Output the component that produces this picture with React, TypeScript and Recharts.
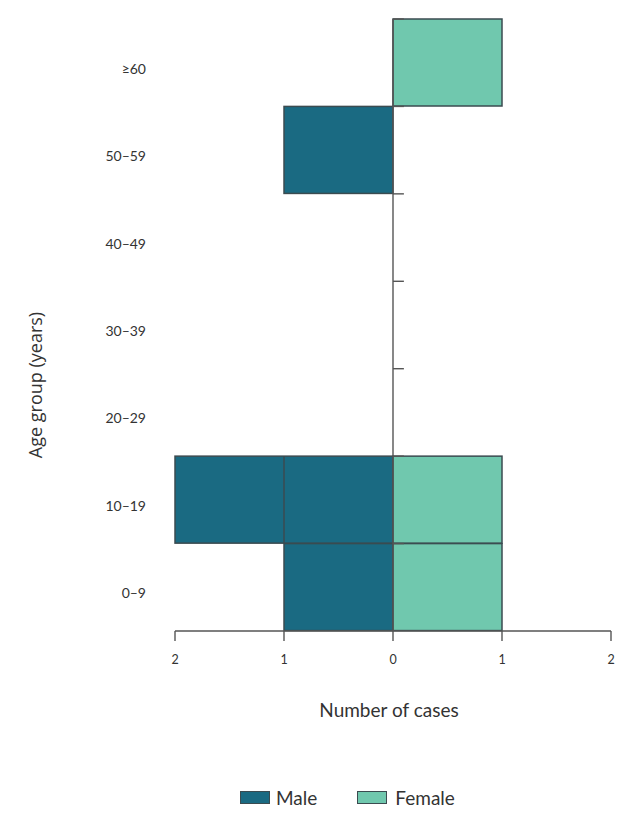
import { BarChart, Bar, XAxis, YAxis, ReferenceLine, Legend } from 'recharts'

// age groups, bottom to top
const ageGroups = ['0–9', '10–19', '20–29', '30–39', '40–49', '50–59', '≥60']
const maleCases = [1, 2, 0, 0, 0, 1, 0]
const femaleCases = [1, 1, 0, 0, 0, 0, 1]
const caseTicks = [-2, -1, 0, 1, 2]

const MALE = '#1a6a82'
const FEMALE = '#70c8ae'
const EDGE = '#3b4b50'
const AXIS = '#555555'

const chartData = ageGroups.map((age, i) => ({
  age,
  male: -maleCases[i],
  female: femaleCases[i],
}))

// one box per case, like the original figure
const UnitBar = (props: any) => {
  const { x, y, width, height, fill, count } = props
  if (!count || !width) return null
  const x0 = Math.min(x, x + width)
  const w = Math.abs(width)
  const unit = w / count
  const dividers = []
  for (let i = 1; i < count; i++) {
    dividers.push(
      <line key={i} x1={x0 + unit * i} x2={x0 + unit * i} y1={y} y2={y + height} stroke={EDGE} strokeWidth={1.5} />
    )
  }
  return (
    <g>
      <rect x={x0} y={y} width={w} height={height} fill={fill} stroke={EDGE} strokeWidth={1.5} />
      {dividers}
    </g>
  )
}

const AgeLabel = ({ viewBox }: any) => {
  const cx = 35
  const cy = viewBox.y + viewBox.height / 2 + 60
  return (
    <text x={cx} y={cy} transform={`rotate(-90 ${cx} ${cy})`} textAnchor="middle" dominantBaseline="central"
      fill="#333" fontSize={18} fontFamily='"Open Sans", sans-serif'>
      Age group (years)
    </text>
  )
}

const LegendBox = () => (
  <div style={{ display: 'flex', alignItems: 'center', paddingLeft: 240, fontFamily: 'Lato, sans-serif', fontSize: 19, color: '#333' }}>
    <span style={{ width: 28, height: 11, background: MALE, border: `1px solid ${EDGE}`, display: 'inline-block' }} />
    <span style={{ marginLeft: 6 }}>Male</span>
    <span style={{ width: 28, height: 11, background: FEMALE, border: `1px solid ${EDGE}`, display: 'inline-block', marginLeft: 40 }} />
    <span style={{ marginLeft: 8 }}>Female</span>
  </div>
)

export default function App() {
  return (
    <div style={{ position: 'absolute', left: 0, top: 0, background: '#fff' }}>
      <BarChart
        width={633}
        height={828}
        data={chartData}
        layout="vertical"
        stackOffset="sign"
        barCategoryGap={0}
        margin={{ top: 19, right: 22, left: 0, bottom: 74 }}
      >
        <XAxis
          type="number"
          domain={[-2, 2]}
          ticks={caseTicks}
          tickFormatter={(v: number) => String(Math.abs(v))}
          stroke={AXIS}
          strokeWidth={1.4}
          tickSize={10}
          tickMargin={14}
          height={100}
          tick={{ fill: '#333', fontSize: 12.5, fontFamily: 'Lato, sans-serif' }}
          label={{ value: 'Number of cases', position: 'insideBottom', offset: 14, dx: -4, fill: '#333', fontSize: 19, fontFamily: 'Lato, sans-serif' }}
        />
        <YAxis
          type="category"
          dataKey="age"
          reversed
          width={175}
          axisLine={false}
          tickLine={false}
          tickSize={0}
          tickMargin={29}
          tick={{ fill: '#333', fontSize: 14, fontFamily: 'Lato, sans-serif', dy: 6 }}
          label={<AgeLabel />}
        />
        <Bar dataKey="male" name="Male" stackId="a" fill={MALE} isAnimationActive={false}
          shape={(p: any) => <UnitBar {...p} count={Math.abs(p.payload.male)} />} />
        <Bar dataKey="female" name="Female" stackId="a" fill={FEMALE} isAnimationActive={false}
          shape={(p: any) => <UnitBar {...p} count={Math.abs(p.payload.female)} />} />
        <ReferenceLine x={0} stroke={AXIS} strokeWidth={1.4} />
        {ageGroups.map((age) => (
          <ReferenceLine
            key={age}
            position="start"
            segment={[{ x: 0, y: age }, { x: 0.1, y: age }]}
            stroke={AXIS}
            strokeWidth={1.4}
          />
        ))}
        <Legend verticalAlign="bottom" content={<LegendBox />} wrapperStyle={{ left: 0, width: 633, top: 786 }} />
      </BarChart>
    </div>
  )
}
